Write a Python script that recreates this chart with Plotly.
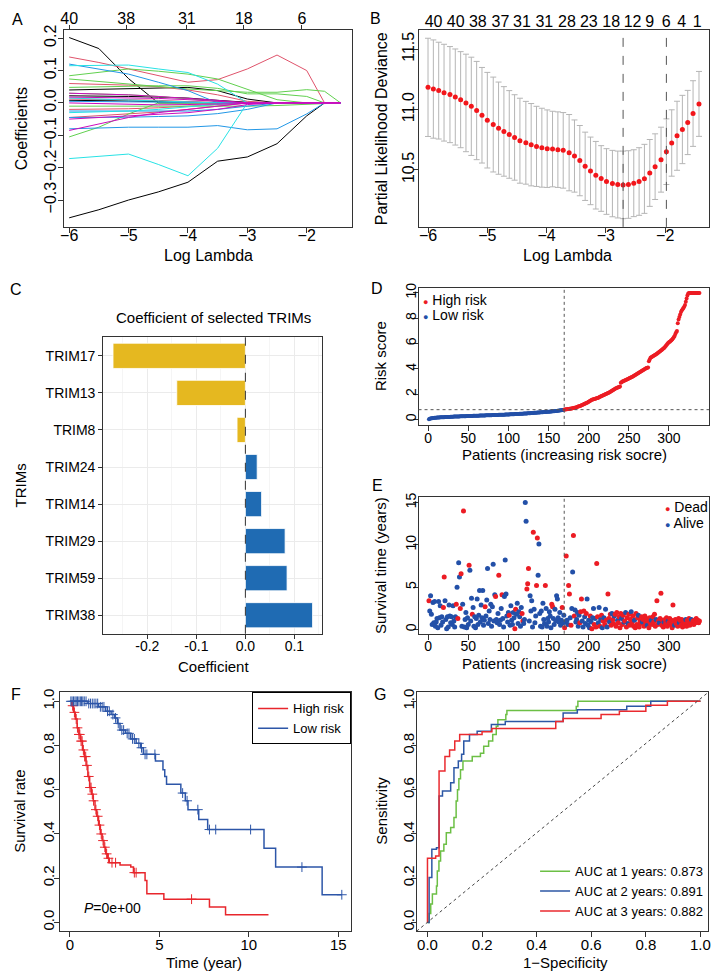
import numpy as np
import plotly.graph_objects as go

# page is drawn with an 8px body margin, so the figure is 712x967 and
# all positions below are given in window pixels and shifted by OFF
OFF = 8
W, H = 712, 967
FONT = "Liberation Sans, Arial, sans-serif"

# =====================
#   A: LASSO coefficient paths
# =====================
A_LOGLAM = [-6.0, -5.5, -5.0, -4.5, -4.0, -3.5, -3.0, -2.5, -2.0, -1.7, -1.43]
A_COEF_PATHS = [
    [0.202, 0.168, 0.075, 0, 0, 0, 0, 0, 0, 0, 0],
    [-0.355, -0.33, -0.30, -0.275, -0.245, -0.18, -0.167, -0.126, -0.04, 0, 0],
    [0.04, 0.042, 0.045, 0.047, 0.048, 0.038, 0.012, 0, 0, 0, 0],
    [0.022, 0.022, 0.02, 0.018, 0.015, 0.008, 0.002, 0, 0, 0, 0],
    [0.008, 0.008, 0.006, 0.004, 0.002, 0, 0, 0, 0, 0, 0],
    [0.142, 0.125, 0.105, 0.084, 0.064, 0.072, 0.105, 0.148, 0.10, 0, 0],
    [0.06, 0.058, 0.055, 0.05, 0.04, 0.025, 0.005, 0, 0, 0, 0],
    [0.012, 0.012, 0.01, 0.008, 0.005, 0, 0, 0, 0, 0, 0],
    [-0.02, -0.02, -0.018, -0.015, -0.01, -0.005, 0, 0, 0, 0, 0],
    [-0.045, -0.04, -0.035, -0.028, -0.02, -0.01, 0, 0, 0, 0, 0],
    [-0.105, -0.075, -0.034, 0, 0, 0, 0, 0, 0, 0, 0],
    [0.084, 0.095, 0.105, 0.098, 0.089, 0.074, 0.043, 0.01, 0, 0, 0],
    [0.074, 0.066, 0.058, 0.05, 0.043, 0.038, 0.033, 0.033, 0.041, 0.036, 0],
    [0.048, 0.05, 0.052, 0.053, 0.053, 0.045, 0.028, 0.028, 0.02, 0, 0],
    [-0.01, -0.01, -0.01, -0.01, -0.012, -0.012, -0.01, -0.008, -0.004, 0, 0],
    [0.03, 0.028, 0.025, 0.02, 0.012, 0.005, 0, 0, 0, 0, 0],
    [0.12, 0.105, 0.089, 0.064, 0.038, 0, 0, 0, 0, 0, 0],
    [-0.08, -0.077, -0.075, -0.075, -0.075, -0.07, -0.083, -0.08, -0.034, 0, 0],
    [-0.045, -0.045, -0.044, -0.042, -0.04, -0.033, -0.02, 0, 0, 0, 0],
    [0.005, 0.004, 0.003, 0.002, 0, 0, 0, 0, 0, 0, 0],
    [-0.025, -0.025, -0.025, -0.026, -0.025, -0.02, -0.01, 0, 0, 0, 0],
    [-0.172, -0.164, -0.158, -0.19, -0.225, -0.14, 0, 0, 0, 0, 0],
    [0.115, 0.117, 0.117, 0.105, 0.094, 0.058, 0, 0, 0, 0, 0],
    [0.015, 0.012, 0.01, 0.006, 0.002, 0, 0, 0, 0, 0, 0],
    [-0.03, -0.028, -0.025, -0.02, -0.012, -0.004, 0, 0, 0, 0, 0],
    [0.03, 0.028, 0.025, 0.02, 0.015, 0.008, 0, 0, 0, 0, 0],
    [-0.05, -0.045, -0.04, -0.035, -0.03, -0.02, -0.005, 0, 0, 0, 0],
    [-0.085, -0.065, -0.045, -0.03, -0.02, -0.01, 0, 0, 0, 0, 0],
    [0.0, -0.002, -0.004, -0.006, -0.005, -0.003, 0, 0, 0, 0, 0],
    [0.018, 0.017, 0.016, 0.014, 0.01, 0.004, 0, 0, 0, 0, 0],
]
A_PATH_COLORS = (["#000000"] * 5 + ["#DF536B"] * 5 + ["#61D04F"] * 6
                 + ["#2297E6"] * 5 + ["#28E2E5"] * 4 + ["#CD0BBC"] * 5)
A_TOP_POS = [-6.0, -5.04, -4.02, -3.06, -2.08]
A_TOP_LAB = ["40", "38", "31", "18", "6"]

# =====================
#   B: cross-validation deviance
# =====================
B_LOGLAM = [-6.00, -5.91, -5.82, -5.73, -5.63, -5.54, -5.45, -5.36, -5.27, -5.18,
            -5.09, -5.00, -4.90, -4.81, -4.72, -4.63, -4.54, -4.45, -4.35, -4.26,
            -4.17, -4.08, -3.99, -3.90, -3.81, -3.72, -3.62, -3.53, -3.44, -3.35,
            -3.26, -3.17, -3.08, -2.99, -2.89, -2.80, -2.71, -2.62, -2.53, -2.44,
            -2.35, -2.26, -2.17, -2.07, -1.98, -1.89, -1.80, -1.71, -1.62, -1.53,
            -1.43]
B_DEV = [11.184, 11.170, 11.157, 11.140, 11.124, 11.104, 11.082, 11.055, 11.027, 10.992,
         10.953, 10.912, 10.876, 10.846, 10.819, 10.794, 10.769, 10.742, 10.725, 10.709,
         10.695, 10.684, 10.676, 10.673, 10.668, 10.662, 10.643, 10.615, 10.577, 10.530,
         10.492, 10.456, 10.429, 10.404, 10.387, 10.379, 10.376, 10.379, 10.390, 10.404,
         10.426, 10.475, 10.527, 10.585, 10.651, 10.723, 10.783, 10.835, 10.893, 10.967,
         11.047]
B_SE = [0.407, 0.407, 0.401, 0.401, 0.398, 0.398, 0.398, 0.404, 0.407, 0.407,
        0.396, 0.396, 0.393, 0.382, 0.371, 0.363, 0.354, 0.352, 0.343, 0.341,
        0.332, 0.327, 0.321, 0.313, 0.313, 0.313, 0.316, 0.299, 0.291, 0.283,
        0.280, 0.280, 0.272, 0.272, 0.275, 0.277, 0.280, 0.280, 0.277, 0.280,
        0.286, 0.277, 0.272, 0.269, 0.272, 0.275, 0.286, 0.283, 0.266, 0.272,
        0.269]
B_1SE_IDX = 44
B_TOP_POS = [-5.906, -5.533, -5.161, -4.778, -4.417, -4.039, -3.656, -3.289,
             -2.911, -2.55, -2.261, -1.983, -1.722, -1.461]
B_TOP_LAB = ["40", "40", "38", "37", "31", "31", "28", "23", "18", "12", "9", "6", "4", "1"]

# =====================
#   C: selected coefficients
# =====================
C_GENES = ["TRIM17", "TRIM13", "TRIM8", "TRIM24", "TRIM14", "TRIM29", "TRIM59", "TRIM38"]
C_COEF = [-0.270, -0.140, -0.017, 0.024, 0.033, 0.081, 0.085, 0.137]
C_XTICKS = [-0.2, -0.1, 0.0, 0.1]
C_XTICKTEXT = ["-0.2", "-0.1", "0.0", "0.1"]
C_XMINOR = [-0.25, -0.15, -0.05, 0.05, 0.15]

# =====================
#   D: risk score distribution
# =====================
RISK_LOW = [
    0.03, 0.06, 0.08, 0.10, 0.11, 0.12, 0.13, 0.14, 0.15, 0.15,
    0.16, 0.16, 0.17, 0.17, 0.18, 0.18, 0.18, 0.19, 0.19, 0.19,
    0.20, 0.20, 0.20, 0.21, 0.21, 0.21, 0.21, 0.22, 0.22, 0.22,
    0.22, 0.23, 0.23, 0.23, 0.23, 0.24, 0.24, 0.24, 0.24, 0.25,
    0.25, 0.25, 0.25, 0.26, 0.26, 0.26, 0.26, 0.27, 0.27, 0.27,
    0.27, 0.28, 0.28, 0.28, 0.28, 0.29, 0.29, 0.29, 0.29, 0.30,
    0.30, 0.30, 0.30, 0.31, 0.31, 0.31, 0.31, 0.32, 0.32, 0.32,
    0.32, 0.33, 0.33, 0.33, 0.33, 0.34, 0.34, 0.34, 0.34, 0.35,
    0.35, 0.35, 0.35, 0.36, 0.36, 0.36, 0.36, 0.37, 0.37, 0.37,
    0.37, 0.38, 0.38, 0.38, 0.38, 0.39, 0.39, 0.39, 0.40, 0.40,
    0.40, 0.41, 0.41, 0.41, 0.42, 0.42, 0.42, 0.43, 0.43, 0.43,
    0.44, 0.44, 0.44, 0.45, 0.45, 0.45, 0.46, 0.46, 0.47, 0.47,
    0.47, 0.48, 0.48, 0.49, 0.49, 0.50, 0.50, 0.51, 0.51, 0.52,
    0.52, 0.53, 0.53, 0.54, 0.54, 0.55, 0.55, 0.56, 0.56, 0.57,
    0.57, 0.58, 0.58, 0.59, 0.59, 0.60, 0.60, 0.61, 0.61, 0.62,
    0.62, 0.63, 0.63, 0.64, 0.65, 0.65, 0.66, 0.67, 0.67, 0.68,
    0.69, 0.70, 0.71, 0.72, 0.73, 0.74, 0.75, 0.76, 0.77,
]
RISK_HIGH = [
    0.79, 0.80, 0.81, 0.82, 0.83, 0.84, 0.85, 0.86, 0.87, 0.88,
    0.90, 0.91, 0.93, 0.94, 0.96, 0.98, 1.00, 1.02, 1.04, 1.06,
    1.09, 1.12, 1.15, 1.18, 1.21, 1.24, 1.27, 1.30, 1.33, 1.36,
    1.40, 1.44, 1.48, 1.52, 1.56, 1.59, 1.61, 1.63, 1.65, 1.67,
    1.69, 1.71, 1.73, 1.76, 1.79, 1.82, 1.85, 1.88, 1.91, 1.94,
    1.97, 2.00, 2.03, 2.06, 2.09, 2.12, 2.16, 2.20, 2.24, 2.28,
    2.32, 2.36, 2.40, 2.44, 2.48, 2.50, 2.52, 2.54, 2.56, 2.60,
    2.90, 2.95, 3.00, 3.03, 3.06, 3.09, 3.12, 3.15, 3.18, 3.21,
    3.24, 3.27, 3.30, 3.33, 3.36, 3.40, 3.44, 3.48, 3.52, 3.56,
    3.60, 3.64, 3.68, 3.72, 3.76, 3.80, 3.84, 3.88, 3.92, 3.96,
    4.00, 4.03, 4.06, 4.08, 4.10, 4.60, 4.75, 4.88, 4.92, 4.96,
    5.00, 5.04, 5.08, 5.12, 5.16, 5.20, 5.25, 5.30, 5.35, 5.40,
    5.45, 5.50, 5.55, 5.60, 5.65, 5.72, 5.80, 5.88, 5.96, 6.04,
    6.10, 6.15, 6.20, 6.26, 6.32, 6.40, 6.50, 6.60, 6.75, 6.90,
    7.00, 7.60, 7.90, 8.10, 8.30, 8.50, 8.60, 8.70, 8.80, 8.90,
    9.05, 9.30, 9.55, 9.80, 9.95, 10.0, 10.0, 10.0, 10.0, 10.0,
    10.0, 10.0, 10.0, 10.0, 10.0, 10.0, 10.0, 10.0, 10.0,
]
RISK_CUTOFF = 0.78

# =====================
#   E: survival status (patients in risk order)
# =====================
SURV_TIME = [
    3.4, 2.2, 4.0, 1.8, 0.6, 3.2, 0.8, 3.3, 0.4, 0.9,
    1.3, 0.2, 3.3, 1.4, 2.8, 0.5, 1.5, 0.9, 2.6, 6.2,
    3.4, 1.2, 0.1, 1.5, 0.3, 2.9, 1.6, 0.8, 1.5, 0.6,
    2.8, 1.0, 0.3, 1.5, 3.0, 5.0, 1.3, 7.9, 6.2, 2.5,
    6.6, 0.4, 3.0, 14.0, 0.3, 1.2, 2.0, 0.2, 1.4, 0.6,
    7.6, 7.0, 1.0, 3.7, 1.8, 2.6, 0.4, 1.5, 0.2, 1.3,
    3.6, 0.6, 1.7, 4.6, 0.9, 2.9, 1.4, 4.6, 0.5, 1.1,
    2.7, 1.6, 3.5, 7.2, 0.7, 2.2, 1.2, 3.0, 0.4, 2.7,
    7.7, 1.0, 4.1, 3.9, 1.2, 0.8, 1.9, 6.4, 0.6, 1.1,
    2.5, 4.1, 1.3, 0.3, 3.9, 8.2, 4.2, 1.6, 0.9, 2.0,
    1.7, 0.5, 2.8, 1.1, 0.6, 2.0, 1.4, 0.1, 2.4, 1.8,
    3.1, 0.7, 2.1, 1.5, 0.4, 2.6, 1.9, 1.0, 0.7, 1.2,
    15.0, 12.8, 4.8, 5.4, 7.2, 1.0, 4.0, 2.2, 3.4, 0.3,
    11.5, 2.4, 0.8, 1.6, 5.2, 10.8, 6.4, 10.1, 1.9, 0.4,
    2.2, 0.3, 3.1, 1.2, 0.7, 5.2, 2.5, 0.4, 1.3, 0.9,
    2.1, 1.6, 0.2, 3.0, 2.7, 1.3, 0.6, 2.4, 1.0, 4.0,
    3.6, 1.4, 0.9, 2.0, 0.5, 1.1, 2.6, 0.8, 1.7,
    0.2, 0.9, 8.7, 1.1, 0.6, 5.2, 4.2, 1.4, 0.5, 2.5,
    6.8, 11.1, 1.6, 2.3, 0.9, 1.2, 2.0, 0.4, 1.7, 0.8,
    2.1, 3.6, 1.0, 0.3, 2.2, 1.5, 0.7, 1.9, 3.6, 0.5,
    1.1, 0.2, 1.6, 0.9, 0.1, 1.4, 2.5, 0.6, 1.3, 0.3,
    7.8, 1.5, 0.8, 2.6, 0.4, 1.2, 1.7, 0.2, 1.0, 1.4,
    0.6, 2.4, 1.1, 0.3, 4.2, 1.3, 0.9, 1.8, 0.5, 1.9,
    1.2, 0.7, 1.6, 1.8, 0.4, 2.0, 1.1, 0.8, 1.5, 0.2,
    1.9, 1.3, 0.6, 1.7, 0.9, 1.0, 2.0, 0.3, 1.4, 0.7,
    1.8, 0.5, 1.2, 2.1, 0.8, 1.6, 0.4, 1.1, 0.2, 1.9,
    0.6, 1.4, 1.7, 0.3, 1.0, 0.7, 1.5, 0.9, 1.2, 0.4,
    1.6, 0.8, 1.3, 0.5, 1.0, 0.2, 1.4, 0.7, 1.1, 0.6,
    1.5, 0.9, 1.8, 0.4, 1.2, 3.4, 0.6, 1.0, 0.8, 1.3,
    4.3, 0.5, 1.1, 0.3, 0.9, 1.2, 0.7, 1.4, 0.4, 1.0,
    0.8, 1.3, 0.6, 1.1, 0.2, 2.9, 0.9, 0.5, 1.2, 0.7,
    1.0, 0.4, 1.3, 0.8, 1.1, 0.5, 1.2, 0.3, 0.9, 1.0,
    0.6, 1.2, 0.4, 1.1, 0.8, 1.3, 0.5, 0.9, 1.2, 0.7,
    1.0, 0.6, 1.1, 0.8, 1.3, 0.9, 1.1, 0.8, 1.0,
]
SURV_DEAD = [
    1, 0, 0, 0, 0, 0, 0, 0, 0, 0,
    0, 0, 0, 0, 0, 0, 0, 0, 1, 1,
    0, 0, 0, 0, 0, 0, 0, 0, 0, 0,
    0, 0, 0, 0, 1, 0, 1, 0, 0, 1,
    1, 0, 0, 1, 0, 0, 0, 0, 0, 0,
    1, 0, 0, 0, 1, 0, 0, 0, 0, 0,
    0, 0, 0, 0, 0, 0, 0, 0, 0, 0,
    1, 0, 0, 0, 0, 0, 0, 0, 0, 0,
    0, 0, 0, 1, 0, 0, 0, 1, 0, 0,
    0, 1, 0, 0, 0, 0, 0, 0, 0, 0,
    1, 0, 0, 0, 0, 0, 0, 1, 1, 0,
    0, 0, 0, 0, 0, 0, 1, 1, 0, 0,
    0, 0, 1, 1, 1, 0, 0, 0, 0, 0,
    1, 0, 0, 0, 1, 1, 0, 0, 0, 0,
    0, 0, 0, 0, 0, 1, 0, 0, 0, 0,
    0, 0, 0, 1, 1, 0, 0, 0, 0, 0,
    0, 0, 0, 0, 0, 0, 1, 0, 0,
    1, 0, 1, 0, 0, 1, 1, 0, 1, 0,
    0, 1, 1, 0, 0, 0, 0, 0, 0, 1,
    1, 1, 0, 0, 1, 0, 0, 1, 0, 0,
    0, 0, 1, 0, 1, 0, 0, 1, 0, 1,
    1, 1, 0, 0, 1, 0, 1, 0, 1, 0,
    1, 0, 1, 0, 1, 1, 0, 1, 1, 0,
    1, 1, 0, 1, 1, 1, 0, 1, 1, 1,
    1, 0, 1, 1, 0, 1, 0, 1, 1, 0,
    1, 1, 1, 0, 1, 1, 1, 0, 1, 1,
    1, 1, 0, 1, 1, 1, 1, 0, 1, 1,
    1, 1, 1, 0, 1, 1, 1, 1, 0, 1,
    1, 1, 1, 1, 0, 1, 1, 1, 0, 1,
    1, 1, 1, 1, 0, 1, 1, 1, 1, 0,
    1, 1, 1, 1, 1, 1, 1, 0, 1, 1,
    1, 1, 1, 0, 1, 1, 1, 1, 1, 1,
    1, 0, 1, 1, 1, 1, 1, 1, 0, 1,
    1, 1, 1, 1, 1, 1, 1, 1, 1,
]

# =====================
#   F: Kaplan-Meier
# =====================
KM_T_HIGH = [0, 0.1, 0.2, 0.3, 0.4, 0.5, 0.6, 0.7, 0.8, 0.9, 1.0, 1.1, 1.2, 1.3, 1.4, 1.5,
             1.6, 1.7, 1.8, 1.9, 2.0, 2.1, 2.2, 2.8, 3.4, 3.55, 4.2, 4.3, 5.25, 7.8, 8.7, 11.1]
KM_S_HIGH = [1.0, 0.98, 0.95, 0.92, 0.88, 0.85, 0.82, 0.78, 0.75, 0.71, 0.66, 0.61, 0.58, 0.55,
             0.51, 0.48, 0.44, 0.40, 0.37, 0.34, 0.31, 0.29, 0.27, 0.26, 0.25, 0.225, 0.19, 0.13,
             0.105, 0.07, 0.035, 0.035]
KM_CENS_HIGH = [0.15, 0.25, 0.35, 0.42, 0.5, 0.55, 0.62, 0.68, 0.75, 0.82, 0.88, 0.95, 1.05,
                1.12, 1.18, 1.25, 1.32, 1.45, 1.55, 1.65, 1.75, 1.85, 1.95, 2.05, 2.15, 2.35,
                2.55, 3.6, 3.7, 6.8]
KM_T_LOW = [0, 1.0, 1.6, 2.0, 2.3, 2.5, 2.65, 2.8, 3.1, 3.4, 3.7, 3.95, 4.1, 4.78, 5.2, 5.3,
            5.4, 6.2, 6.45, 6.6, 7.2, 7.7, 10.85, 11.5, 14.1, 15.2]
KM_S_LOW = [1.0, 0.99, 0.975, 0.955, 0.94, 0.925, 0.9, 0.87, 0.855, 0.83, 0.81, 0.79, 0.76,
            0.73, 0.69, 0.66, 0.625, 0.585, 0.55, 0.51, 0.465, 0.42, 0.335, 0.25, 0.125, 0.125]
KM_CENS_LOW = [0.05, 0.12, 0.2, 0.28, 0.35, 0.42, 0.5, 0.58, 0.65, 0.72, 0.8, 0.9, 1.05, 1.15,
               1.25, 1.35, 1.45, 1.55, 1.7, 1.8, 1.9, 2.1, 2.2, 2.4, 2.55, 2.7, 2.9, 3.0, 3.2,
               3.3, 3.5, 3.6, 3.85, 4.0, 4.2, 4.3, 4.75, 6.3, 6.55, 7.15, 7.8, 8.15, 10.1,
               12.97, 15.2]
KM_P_TEXT = "<i>P</i>=0e+00"

# =====================
#   G: time-dependent ROC
# =====================
ROC_FPR_1 = [0, 0.006, 0.012, 0.018, 0.033, 0.036, 0.042, 0.048, 0.06, 0.069, 0.085, 0.097,
             0.105, 0.11, 0.115, 0.121, 0.13, 0.164, 0.194, 0.206, 0.224, 0.239, 0.252, 0.258,
             0.287, 0.291, 0.545, 0.551, 1.0]
ROC_TPR_1 = [0, 0.04, 0.083, 0.128, 0.165, 0.233, 0.278, 0.323, 0.353, 0.406, 0.429, 0.474,
             0.549, 0.6, 0.65, 0.69, 0.73, 0.75, 0.765, 0.797, 0.82, 0.85, 0.887, 0.917, 0.94,
             0.958, 0.977, 1.0, 1.0]
ROC_FPR_2 = [0, 0.006, 0.016, 0.033, 0.0425, 0.055, 0.085, 0.097, 0.113, 0.125, 0.133, 0.154,
             0.182, 0.234, 0.285, 0.497, 0.549, 0.73, 0.818, 1.0]
ROC_TPR_2 = [0, 0.203, 0.331, 0.338, 0.572, 0.594, 0.632, 0.70, 0.73, 0.76, 0.82, 0.85, 0.865,
             0.895, 0.909, 0.947, 0.962, 0.978, 1.0, 1.0]
ROC_FPR_3 = [0, 0, 0.03, 0.0425, 0.064, 0.081, 0.1, 0.118, 0.2, 0.236, 0.47, 0.497, 0.636,
             0.703, 0.8, 0.879, 1.0]
ROC_TPR_3 = [0, 0.29, 0.30, 0.685, 0.75, 0.78, 0.82, 0.85, 0.862, 0.877, 0.909, 0.922, 0.94,
             0.955, 0.982, 1.0, 1.0]
ROC_YEARS = [1, 2, 3]
ROC_AUC = [0.873, 0.891, 0.882]

RED = "#EC1C24"
BLUE = "#2350A8"


def dx(left, right):
    return [(left - OFF) / W, (right - OFF) / W]


def dy(top, bottom):
    return [1 - (bottom - OFF) / H, 1 - (top - OFF) / H]


def r_axis(domain, rng, size=15, standoff=0, **kw):
    ax = dict(domain=domain, range=rng, showline=True, linecolor="#333", linewidth=1,
              mirror=True, ticks="outside", ticklen=5, tickwidth=1, tickcolor="#333",
              showgrid=False, zeroline=False, ticklabelstandoff=standoff,
              tickfont=dict(family=FONT, size=size, color="black"))
    ax.update(kw)
    return ax


fig = go.Figure()

# ---- A ----
for vals, col in zip(A_COEF_PATHS, A_PATH_COLORS):
    fig.add_trace(go.Scatter(x=A_LOGLAM, y=vals, mode="lines", line=dict(color=col, width=1),
                             showlegend=False, hoverinfo="skip", xaxis="x", yaxis="y"))
fig.add_trace(go.Scatter(x=A_TOP_POS, y=[None] * len(A_TOP_POS), xaxis="x2", yaxis="y",
                         showlegend=False, hoverinfo="skip"))

# ---- B ----
fig.add_trace(go.Scatter(
    x=B_LOGLAM, y=B_DEV, mode="markers", marker=dict(color="#F2161B", size=5),
    error_y=dict(type="data", array=B_SE, color="#B5B5B5", thickness=1, width=3),
    showlegend=False, hoverinfo="skip", xaxis="x3", yaxis="y2"))
fig.add_trace(go.Scatter(x=B_TOP_POS, y=[None] * len(B_TOP_POS), xaxis="x4", yaxis="y2",
                         showlegend=False, hoverinfo="skip"))
b_min = B_LOGLAM[int(np.argmin(B_DEV))]
b_1se = B_LOGLAM[B_1SE_IDX]

# ---- C ----
c_colors = ["#E5B820" if v < 0 else "#1F6BB3" for v in C_COEF]
fig.add_trace(go.Bar(x=C_COEF, y=C_GENES, orientation="h", width=0.68,
                     marker=dict(color=c_colors, line=dict(color="white", width=0.8)),
                     showlegend=False, hoverinfo="skip", xaxis="x5", yaxis="y3"))

# ---- D ----
n_low = len(RISK_LOW)
idx_low = list(range(1, n_low + 1))
idx_high = list(range(n_low + 1, n_low + len(RISK_HIGH) + 1))
fig.add_trace(go.Scatter(x=idx_low, y=RISK_LOW, mode="markers",
                         marker=dict(color=BLUE, size=4), showlegend=False,
                         hoverinfo="skip", xaxis="x6", yaxis="y4"))
fig.add_trace(go.Scatter(x=idx_high, y=RISK_HIGH, mode="markers",
                         marker=dict(color=RED, size=4), showlegend=False,
                         hoverinfo="skip", xaxis="x6", yaxis="y4"))

# ---- E ----
e_idx = list(range(1, len(SURV_TIME) + 1))
e_cols = [RED if d == 1 else BLUE for d in SURV_DEAD]
fig.add_trace(go.Scatter(x=e_idx, y=SURV_TIME, mode="markers",
                         marker=dict(color=e_cols, size=5), showlegend=False,
                         hoverinfo="skip", xaxis="x7", yaxis="y5"))


# ---- F ----
def km_at(times, surv, t):
    i = np.searchsorted(times, t, side="right") - 1
    return [surv[k] for k in i]


for name, t, s, cens, col in [("High risk", KM_T_HIGH, KM_S_HIGH, KM_CENS_HIGH, "#E8262C"),
                              ("Low risk", KM_T_LOW, KM_S_LOW, KM_CENS_LOW, "#2D56A8")]:
    fig.add_trace(go.Scatter(x=t, y=s, mode="lines", line=dict(color=col, width=1.5, shape="hv"),
                             name=name, legend="legend", hoverinfo="skip",
                             xaxis="x8", yaxis="y6"))
    fig.add_trace(go.Scatter(x=cens, y=km_at(np.array(t), s, np.array(cens)), mode="markers",
                             marker=dict(symbol="cross-thin", size=7,
                                         line=dict(color=col, width=1)),
                             showlegend=False, hoverinfo="skip", xaxis="x8", yaxis="y6"))

# ---- G ----
for yr, auc, fpr, tpr, col in zip(ROC_YEARS, ROC_AUC, [ROC_FPR_1, ROC_FPR_2, ROC_FPR_3],
                                  [ROC_TPR_1, ROC_TPR_2, ROC_TPR_3],
                                  ["#6CBF45", "#2C57A5", "#EA2A2F"]):
    fig.add_trace(go.Scatter(x=fpr, y=tpr, mode="lines", line=dict(color=col, width=1.5, shape="hv"),
                             name=f"AUC at {yr} years: {auc:.3f}", legend="legend2",
                             hoverinfo="skip", xaxis="x9", yaxis="y7"))

# =====================
#   Layout
# =====================
A_X, A_Y = dx(61, 352), dy(25, 223)
B_X, B_Y = dx(419, 712), dy(25, 223)
C_X, C_Y = dx(101, 322), dy(334, 632)
D_X, D_Y = dx(419, 712), dy(284, 422)
E_X, E_Y = dx(419, 712), dy(495, 632)
F_X, F_Y = dx(57, 351), dy(691, 931)
G_X, G_Y = dx(417, 711), dy(691, 931)

A_RANGE = [-6.095, -1.236]
B_RANGE = [-6.16, -1.26]

layout = dict(
    width=W, height=H, autosize=False, margin=dict(l=0, r=0, t=0, b=0),
    paper_bgcolor="white", plot_bgcolor="white",
    font=dict(family=FONT, color="black"),
    xaxis=r_axis(A_X, A_RANGE, 16, -11, anchor="y", tickvals=[-6, -5, -4, -3, -2]),
    xaxis2=dict(overlaying="x", anchor="y", side="top", range=A_RANGE, tickvals=A_TOP_POS,
                ticktext=A_TOP_LAB, ticks="outside", ticklen=4, tickcolor="#333",
                ticklabelstandoff=-5,
                showline=False, showgrid=False, zeroline=False,
                tickfont=dict(family=FONT, size=16, color="black")),
    yaxis=r_axis(A_Y, [-0.383, 0.2256], 16, -5, anchor="x", tickangle=-90,
                 tickvals=[-0.3, -0.2, -0.1, 0, 0.1, 0.2], tickformat=".1f"),
    xaxis3=r_axis(B_X, B_RANGE, 16, -11, anchor="y2", tickvals=[-6, -5, -4, -3, -2]),
    xaxis4=dict(overlaying="x3", anchor="y2", side="top", range=B_RANGE, tickvals=B_TOP_POS,
                ticktext=B_TOP_LAB, ticks="", showline=False, showgrid=False, zeroline=False,
                ticklabelstandoff=-1,
                tickfont=dict(family=FONT, size=16, color="black")),
    yaxis2=r_axis(B_Y, [10.028, 11.66], 16, -8, anchor="x3", tickangle=-90,
                  tickvals=[10.5, 11.0, 11.5], tickformat=".1f"),
    xaxis5=r_axis(C_X, [-0.29, 0.157], 14, -5, anchor="y3", tickvals=C_XTICKS,
                  ticktext=C_XTICKTEXT, ticklen=4, showgrid=True, gridcolor="#EBEBEB",
                  minor=dict(tickvals=C_XMINOR, showgrid=True, gridcolor="#F5F5F5", ticks="")),
    yaxis3=r_axis(C_Y, None, 14, 0, anchor="x5", type="category", categoryarray=C_GENES,
                  autorange="reversed", ticklen=4, showgrid=True, gridcolor="#EBEBEB"),
    xaxis6=r_axis(D_X, [-12, 350], 14, -5, anchor="y4",
                  tickvals=[0, 50, 100, 150, 200, 250, 300]),
    yaxis4=r_axis(D_Y, [-0.42, 10.42], 14, -9, anchor="x6", tickangle=-90,
                  tickvals=[0, 2, 4, 6, 8, 10]),
    xaxis7=r_axis(E_X, [-12, 350], 14, -6, anchor="y5",
                  tickvals=[0, 50, 100, 150, 200, 250, 300]),
    yaxis5=r_axis(E_Y, [-0.5, 15.6], 14, -9, anchor="x7", tickangle=-90,
                  tickvals=[0, 5, 10, 15]),
    xaxis8=r_axis(F_X, [-0.58, 15.72], 15, -5, anchor="y6", tickvals=[0, 5, 10, 15]),
    yaxis6=r_axis(F_Y, [-0.04, 1.04], 15, -6, anchor="x8", tickangle=-90,
                  tickvals=[0, 0.2, 0.4, 0.6, 0.8, 1.0], tickformat=".1f"),
    xaxis9=r_axis(G_X, [-0.04, 1.028], 15, -5, anchor="y7",
                  tickvals=[0, 0.2, 0.4, 0.6, 0.8, 1.0], tickformat=".1f"),
    yaxis7=r_axis(G_Y, [-0.04, 1.04], 15, -9, anchor="x9", tickangle=-90,
                  tickvals=[0, 0.2, 0.4, 0.6, 0.8, 1.0], tickformat=".1f"),
    legend=dict(x=(351 - OFF) / W, y=1 - (691 - OFF) / H, xanchor="right", yanchor="top",
                bordercolor="black", borderwidth=1, bgcolor="white",
                font=dict(family=FONT, size=13, color="black"), tracegroupgap=0),
    legend2=dict(x=(711 - OFF) / W, y=1 - (926 - OFF) / H, xanchor="right", yanchor="bottom",
                 bgcolor="rgba(0,0,0,0)", font=dict(family=FONT, size=13, color="black"),
                 tracegroupgap=0),
)
fig.update_layout(**layout)

dash = dict(color="#555", width=1, dash="dash")
dotted = dict(color="#555", width=1, dash="dot")
shapes = [
    dict(type="line", xref="x3", yref="y2 domain", x0=b_min, x1=b_min, y0=0, y1=1, line=dash),
    dict(type="line", xref="x3", yref="y2 domain", x0=b_1se, x1=b_1se, y0=0, y1=1, line=dash),
    dict(type="line", xref="x5", yref="y3 domain", x0=0, x1=0, y0=0, y1=1,
         line=dict(color="#333", width=1, dash="dash")),
    dict(type="line", xref="x6", yref="y4 domain", x0=n_low + 0.5, x1=n_low + 0.5,
         y0=0, y1=1, line=dotted),
    dict(type="line", xref="x6 domain", yref="y4", x0=0, x1=1, y0=RISK_CUTOFF,
         y1=RISK_CUTOFF, line=dotted),
    dict(type="line", xref="x7", yref="y5 domain", x0=n_low + 0.5, x1=n_low + 0.5,
         y0=0, y1=1, line=dotted),
    dict(type="line", xref="x9 domain", yref="y7 domain", x0=0, x1=1, y0=0, y1=1,
         line=dict(color="#444", width=1, dash="dot")),
]
fig.update_layout(shapes=shapes)


def ann(text, px, py, size=15, angle=0, xanchor="center", **kw):
    return dict(text=text, x=(px - OFF) / W, y=1 - (py - OFF) / H, xref="paper",
                yref="paper", showarrow=False, textangle=angle, xanchor=xanchor,
                yanchor="middle", font=dict(family=FONT, size=size, color="black"), **kw)


dot = "<span style='font-size:9px;color:{}'>●</span> {}"
annotations = [
    ann("A", 15, 15, 16), ann("B", 376, 14, 16), ann("C", 13, 286, 16),
    ann("D", 377, 285, 16), ann("E", 378, 483, 16), ann("F", 13, 693, 16),
    ann("G", 380, 693, 16),
    ann("Log Lambda", 207, 252, 16), ann("Coefficients", 18, 124, 16, -90),
    ann("Log Lambda", 569, 252, 16), ann("Partial Likelihood Deviance", 382, 124, 16, -90),
    ann("Coefficient of selected TRIMs", 212, 314, 15),
    ann("Coefficient", 212, 665, 15), ann("TRIMs", 18, 483, 15, -90),
    ann("Risk score", 380, 353, 15, -90),
    ann("Patients (increasing risk socre)", 566, 452, 15),
    ann("Survival time (years)", 380, 563, 15, -90),
    ann("Patients (increasing risk socre)", 566, 662, 15),
    ann("Time (year)", 203, 962, 15), ann("Survival rate", 17, 810, 15, -90),
    ann("1\u2212Specificity", 567, 962, 15), ann("Sensitivity", 382, 810, 15, -90),
    ann(dot.format(RED, "High risk"), 421, 296, 14, xanchor="left"),
    ann(dot.format(BLUE, "Low risk"), 421, 312, 14, xanchor="left"),
    ann(dot.format(RED, "Dead"), 666, 505, 14, xanchor="left"),
    ann(dot.format(BLUE, "Alive"), 666, 521, 14, xanchor="left"),
    dict(text=KM_P_TEXT, x=2.4, y=0.063, xref="x8", yref="y6", showarrow=False,
         font=dict(family=FONT, size=14, color="black")),
]
fig.update_layout(annotations=annotations)

fig.write_html("out.html")
